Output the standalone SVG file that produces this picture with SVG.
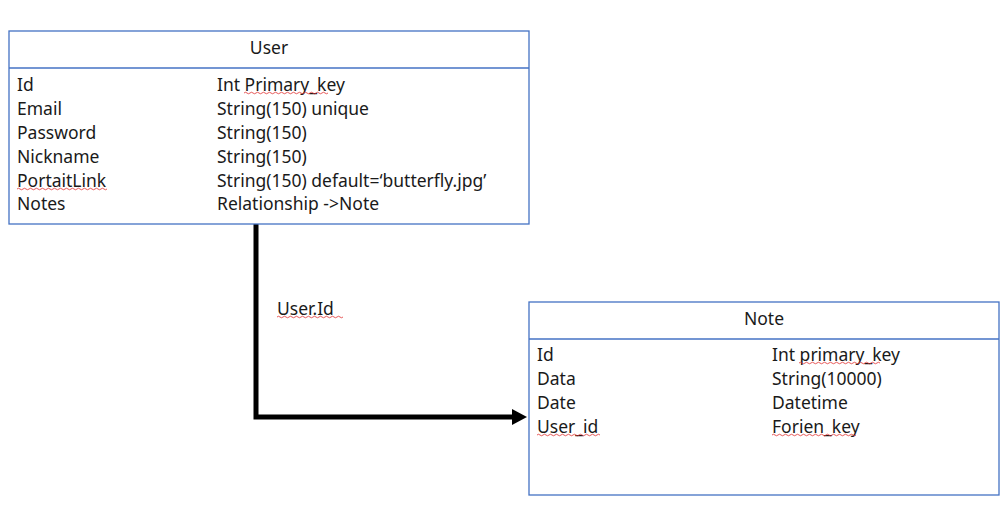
<svg xmlns="http://www.w3.org/2000/svg" width="1007" height="521" viewBox="0 0 1007 521">
<defs>
<style>
.box{fill:#fff;stroke:#4472C4;stroke-width:1.3}
.t{font-family:"Noto Sans","DejaVu Sans",sans-serif;font-size:17.5px;fill:#1a1a1a}
.c{text-anchor:middle}
.sq{fill:none;stroke:#e03030;stroke-width:0.8}
.conn{fill:none;stroke:#000;stroke-width:5}
</style>
<marker id="ah" markerWidth="4" markerHeight="4" refX="1" refY="2" orient="auto" markerUnits="strokeWidth">
<path d="M0,0.4 L3,2 L0,3.6 Z" fill="#000"/>
</marker>
</defs>
<rect width="1007" height="521" fill="#fff"/>
<g id="connectors">
<path class="conn" d="M256,224 V417 H517" marker-end="url(#ah)"/>
<text class="t" x="277" y="315">User.Id</text>
<path class="sq" d="M277,317 q1.5,-1.5 3,0 t3,0 t3,0 t3,0 t3,0 t3,0 t3,0 t3,0 t3,0 t3,0 t3,0 t3,0 t3,0 t3,0 t3,0 t3,0 t3,0 t3,0 t3,0 t3,0 t3,0 t3,0"/>
</g>
<g id="user">
<rect class="box" x="9" y="31" width="520" height="193"/>
<line x1="9" y1="68" x2="529" y2="68" stroke="#4472C4" stroke-width="1.3"/>
<text class="t c" x="269" y="54">User</text>
<text class="t" x="17" y="91">Id</text>
<text class="t" x="17" y="115">Email</text>
<text class="t" x="17" y="139">Password</text>
<text class="t" x="17" y="163">Nickname</text>
<text class="t" x="17" y="187">PortaitLink</text>
<text class="t" x="17" y="210">Notes</text>
<text class="t" x="217" y="91">Int Primary_key</text>
<text class="t" x="217" y="115">String(150) unique</text>
<text class="t" x="217" y="139">String(150)</text>
<text class="t" x="217" y="163">String(150)</text>
<text class="t" x="217" y="187">String(150) default=‘butterfly.jpg’</text>
<text class="t" x="217" y="210">Relationship -&gt;Note</text>
<path class="sq" d="M244,93 q1.5,-1.5 3,0 t3,0 t3,0 t3,0 t3,0 t3,0 t3,0 t3,0 t3,0 t3,0 t3,0 t3,0 t3,0 t3,0 t3,0 t3,0 t3,0 t3,0 t3,0 t3,0 t3,0 t3,0 t3,0 t3,0 t3,0 t3,0 t3,0 t3,0"/>
<path class="sq" d="M17,189 q1.5,-1.5 3,0 t3,0 t3,0 t3,0 t3,0 t3,0 t3,0 t3,0 t3,0 t3,0 t3,0 t3,0 t3,0 t3,0 t3,0 t3,0 t3,0 t3,0 t3,0 t3,0 t3,0 t3,0 t3,0 t3,0 t3,0 t3,0 t3,0 t3,0 t3,0 t3,0"/>
</g>
<g id="note">
<rect class="box" x="529" y="302" width="470" height="193"/>
<line x1="529" y1="339" x2="999" y2="339" stroke="#4472C4" stroke-width="1.3"/>
<text class="t c" x="764" y="325">Note</text>
<text class="t" x="537" y="361">Id</text>
<text class="t" x="537" y="385">Data</text>
<text class="t" x="537" y="409">Date</text>
<text class="t" x="537" y="433">User_id</text>
<text class="t" x="772" y="361">Int primary_key</text>
<text class="t" x="772" y="385">String(10000)</text>
<text class="t" x="772" y="409">Datetime</text>
<text class="t" x="772" y="433">Forien_key</text>
<path class="sq" d="M799,363 q1.5,-1.5 3,0 t3,0 t3,0 t3,0 t3,0 t3,0 t3,0 t3,0 t3,0 t3,0 t3,0 t3,0 t3,0 t3,0 t3,0 t3,0 t3,0 t3,0 t3,0 t3,0 t3,0 t3,0 t3,0 t3,0 t3,0 t3,0 t3,0"/>
<path class="sq" d="M537,435 q1.5,-1.5 3,0 t3,0 t3,0 t3,0 t3,0 t3,0 t3,0 t3,0 t3,0 t3,0 t3,0 t3,0 t3,0 t3,0 t3,0 t3,0 t3,0 t3,0 t3,0 t3,0 t3,0"/>
<path class="sq" d="M772,435 q1.5,-1.5 3,0 t3,0 t3,0 t3,0 t3,0 t3,0 t3,0 t3,0 t3,0 t3,0 t3,0 t3,0 t3,0 t3,0 t3,0 t3,0 t3,0 t3,0 t3,0 t3,0 t3,0 t3,0 t3,0 t3,0 t3,0 t3,0 t3,0 t3,0"/>
</g>
</svg>
